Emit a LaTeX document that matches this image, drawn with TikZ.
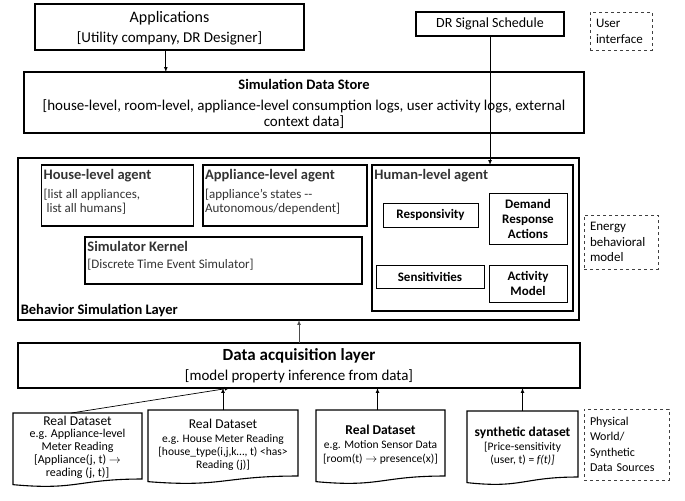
\documentclass[tikz,border=0pt]{standalone}
\usepackage{fontspec}
\setmainfont{Carlito}
\usepackage{amsmath}

\newcommand{\agenttitle}{\bfseries\fontsize{14.5}{16}\selectfont}
\newcommand{\doctitle}{\fontsize{13.5}{15}\selectfont}
\newcommand{\docoutline}[1]{%
  \draw[docline] (#1.north west) -- (#1.north east) -- (#1.south east)
    .. controls (#1.south) and ([yshift=-33pt]#1.south) .. ([yshift=-16pt]#1.south west) -- cycle;}

\begin{document}
\begin{tikzpicture}[scale=0.35146,
  every node/.style={inner sep=0pt, outer sep=0pt},
  box/.style={draw, line width=1.2pt},
  thinbox/.style={draw, line width=0.8pt, align=center, font=\bfseries\fontsize{13}{15}\selectfont},
  notebox/.style={draw=black!75, dashed, line width=0.6pt, align=left, inner xsep=6pt},
  agenttxt/.style={anchor=north west, align=left, text=black!80, font=\fontsize{13}{14}\selectfont},
  docshape/.style={anchor=north, minimum height=66pt},
  doctxt/.style={align=center, font=\fontsize{11.5}{13}\selectfont},
  docline/.style={line width=1.1pt},
  arr/.style={-latex, line width=0.7pt}]
\useasboundingbox (0,0) rectangle (68.5,-50.1);

% user interface
\node[box, minimum width=269pt, minimum height=46pt] (apps) at (16.95,-2.7) {};
\node[align=center, font=\fontsize{15}{20}\selectfont] (appstxt) at ([yshift=-2.5pt]apps.center)
  {{\fontsize{16}{20}\selectfont Applications}\\{}[Utility company, DR Designer]};
\node[box, minimum width=148pt, minimum height=24pt, font=\fontsize{14}{16}\selectfont] (drs) at (49.0,-2.4) {DR Signal Schedule};
\node[notebox, minimum width=62pt, minimum height=38pt, text width=50pt, font=\fontsize{13}{16}\selectfont] (ui) at (62.1,-3.1) {User\\interface};

\node[box, minimum width=560pt, minimum height=61pt] (store) at (30.4,-10.25) {};
\node[align=center, font=\fontsize{15}{16}\selectfont] (storetxt) at ([yshift=-4pt]store.center)
  {{\bfseries\fontsize{14.5}{16}\selectfont Simulation Data Store}\\[5pt]{}[house-level, room-level, appliance-level consumption logs, user activity logs, external\\context data]};

% energy behavioral model
\node[box, minimum width=561pt, minimum height=162pt] (layer) at (29.85,-23.9) {};
\node[anchor=base west, font=\bfseries\fontsize{14.5}{16}\selectfont] (layerlbl) at ([shift={(8pt,17pt)}]layer.south west) {Behavior Simulation Layer};

\node[box, minimum width=152pt, minimum height=61pt] (house) at (11.75,-19.55) {};
\node[agenttxt] (housetxt) at ([shift={(6pt,-12pt)}]house.north west)
  {{\agenttitle House-level agent}\\[5pt]{}[list all appliances,\\\ list all humans]};
\node[box, minimum width=164pt, minimum height=61pt] (appl) at (28.5,-19.55) {};
\node[agenttxt] (appltxt) at ([shift={(6pt,-12pt)}]appl.north west)
  {{\agenttitle Appliance-level agent}\\[5pt]{}[appliance’s states -{}-\\Autonomous/dependent]};
\node[box, minimum width=277pt, minimum height=47pt] (kernel) at (22.35,-26.05) {};
\node[agenttxt] (kerneltxt) at ([shift={(7pt,-12pt)}]kernel.north west)
  {{\agenttitle Simulator Kernel}\\[3pt]{}[Discrete Time Event Simulator]};

\node[box, minimum width=201pt, minimum height=146pt] (human) at (47.25,-23.8) {};
\node[anchor=north west, text=black!80, font=\agenttitle] (humantxt) at ([shift={(7pt,-11pt)}]human.north west) {Human-level agent};
\node[thinbox, minimum width=95pt, minimum height=24pt] (resp) at (43.05,-21.5) {Responsivity};
\node[thinbox, minimum width=78pt, minimum height=51pt] (dra) at (52.8,-21.85) {Demand\\Response\\Actions};
\node[thinbox, minimum width=108pt, minimum height=23pt] (sens) at (43.0,-27.65) {Sensitivities};
\node[thinbox, minimum width=78pt, minimum height=37pt] (act) at (52.8,-28.35) {Activity\\Model};

\node[notebox, minimum width=74pt, minimum height=54pt, text width=62pt, font=\fontsize{13}{15.5}\selectfont] (ebm) at (62.1,-24.2) {Energy\\behavioral\\model};

% data sources
\node[box, minimum width=562pt, minimum height=45pt] (acq) at (29.9,-36.55) {};
\node[align=center, font=\fontsize{15}{20}\selectfont] (acqtxt) at ([yshift=-2pt]acq.center)
  {{\bfseries\fontsize{17}{20}\selectfont Data acquisition layer}\\{}[model property inference from data]};

\node[docshape, minimum width=129pt] (doc1) at (7.75,-41.3) {};
\node[doctxt, font=\fontsize{12}{12.8}\selectfont] (doc1txt) at ([yshift=-3pt]doc1.center)
  {{\doctitle Real Dataset}\\e.g. Appliance-level\\Meter Reading\\{}[Appliance(j, t) $\rightarrow$\\reading (j, t)]};
\node[docshape, minimum width=150pt] (doc2) at (22.3,-41.0) {};
\node[doctxt] (doc2txt) at ([yshift=-6pt]doc2.center)
  {{\doctitle Real Dataset}\\[1pt]e.g. House Meter Reading\\{}[house\_type(i,j,k…, t) <has>\\Reading (j)]};
\node[docshape, minimum width=129pt] (doc3) at (38.05,-41.0) {};
\node[doctxt] (doc3txt) at ([yshift=-5pt]doc3.center)
  {{\bfseries\doctitle Real Dataset}\\[1pt]e.g. Motion Sensor Data\\[1.5pt]{}[room(t) $\rightarrow$ presence(x)]};
\node[docshape, minimum width=111pt] (doc4) at (52.25,-41.1) {};
\node[doctxt] (doc4txt) at ([yshift=-5pt]doc4.center)
  {{\bfseries\doctitle synthetic dataset}\\[1pt]{}[Price-sensitivity\\(user, t) = \textit{f(t)]}};
\docoutline{doc1}
\docoutline{doc2}
\docoutline{doc3}
\docoutline{doc4}

\node[notebox, minimum width=85pt, minimum height=71pt, text width=73pt, font=\fontsize{12}{15.5}\selectfont] (phys) at (62.65,-44.45) {Physical\\World/\\Synthetic\\Data Sources};

% connectors
\draw[arr] ([xshift=-10.5pt]apps.south) -- ([xshift=-10.5pt]apps.south |- store.north);
\draw[arr] (drs.south) -- (drs.south |- human.north);
\draw[arr, draw=black!70] (acq.north) -- (acq.north |- layer.south);
\draw[arr] ([xshift=-17.5pt]doc1.north) -- ([xshift=-197pt]acq.south);
\draw[arr] (doc2.north) -- (doc2.north |- acq.south);
\draw[arr] ([xshift=-8.5pt]doc3.north) -- ([xshift=-8.5pt]doc3.north |- acq.south);
\draw[arr] (doc4.north) -- (doc4.north |- acq.south);
\end{tikzpicture}
\end{document}
